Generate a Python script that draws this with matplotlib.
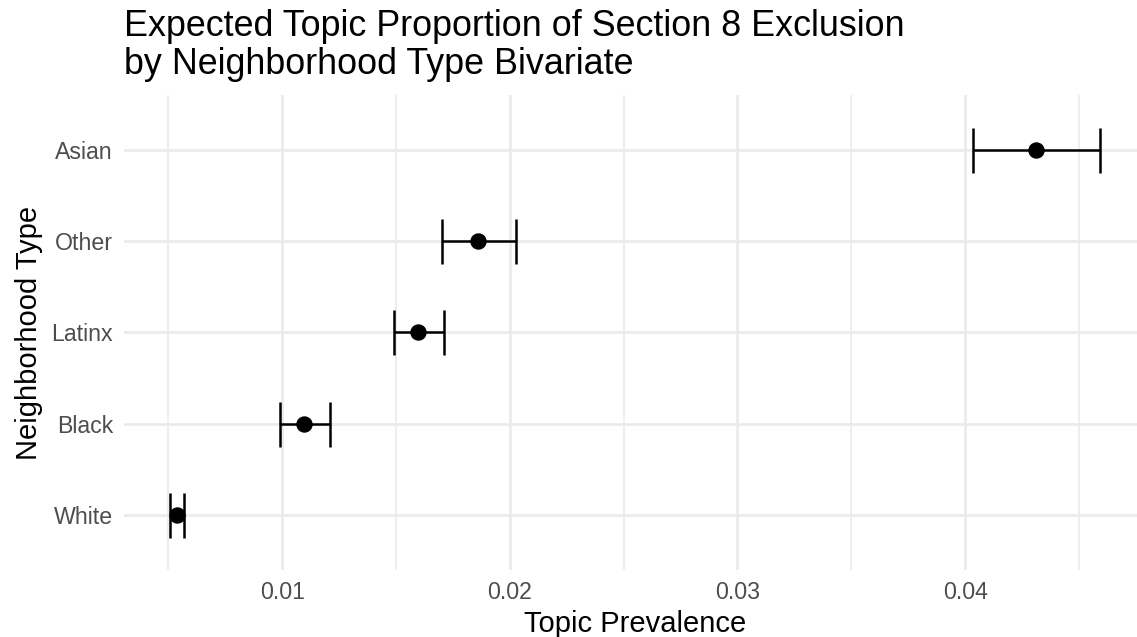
import matplotlib
matplotlib.use("Agg")
import matplotlib.pyplot as plt
from matplotlib.ticker import FixedLocator

categories = ["White", "Black", "Latinx", "Other", "Asian"]
estimates = [0.00538, 0.01098, 0.01598, 0.01862, 0.04313]
lower = [0.00507, 0.00991, 0.01492, 0.01701, 0.04036]
upper = [0.00569, 0.01212, 0.01710, 0.02029, 0.04591]
x_major = [0.01, 0.02, 0.03, 0.04]
x_major_labels = ["0.01", "0.02", "0.03", "0.04"]
x_minor = [0.005, 0.015, 0.025, 0.035, 0.045]
title_lines = ["Expected Topic Proportion of Section 8 Exclusion",
               "by Neighborhood Type Bivariate"]

plt.rcParams["font.family"] = ["Liberation Sans", "DejaVu Sans"]

W, H = 1137, 637
fig = plt.figure(figsize=(W / 100, H / 100), dpi=100)
left_px, right_px, top_px, bottom_px = 124, 1146, 95, 570
ax = fig.add_axes([left_px / W, 1 - bottom_px / H,
                   (right_px - left_px) / W, (bottom_px - top_px) / H])

ypos = list(range(1, len(categories) + 1))
xerr = [[e - l for e, l in zip(estimates, lower)],
        [u - e for u, e in zip(upper, estimates)]]
ax.errorbar(estimates, ypos, xerr=xerr, fmt="o", color="black",
            ecolor="black", elinewidth=1.8, capsize=16.2, capthick=1.8,
            markersize=10.8, zorder=3)

ax.set_xlim(0.003054, 0.047943)
ax.set_ylim(0.4, 5.6)
ax.xaxis.set_major_locator(FixedLocator(x_major))
ax.set_xticklabels(x_major_labels)
ax.xaxis.set_minor_locator(FixedLocator(x_minor))
ax.set_yticks(ypos)
ax.set_yticklabels(categories)

ax.grid(which="major", color="#EBEBEB", linewidth=2.0, zorder=0)
ax.grid(which="minor", axis="x", color="#EBEBEB", linewidth=1.2, zorder=0)
ax.set_axisbelow(True)
for s in ax.spines.values():
    s.set_visible(False)
ax.tick_params(which="both", length=0)
ax.tick_params(axis="both", labelsize=16.7, labelcolor="#4D4D4D")
ax.tick_params(axis="x", pad=8)
ax.tick_params(axis="y", pad=8)

ax.set_xlabel("Topic Prevalence", fontsize=21, color="black", labelpad=4)
ax.set_ylabel("Neighborhood Type", fontsize=21, color="black", labelpad=6)

for line, base_px in zip(title_lines, [36, 74]):
    fig.text(left_px / W, 1 - base_px / H, line, fontsize=25.8,
             color="black", ha="left", va="baseline")

fig.savefig("out.png", dpi=100)
